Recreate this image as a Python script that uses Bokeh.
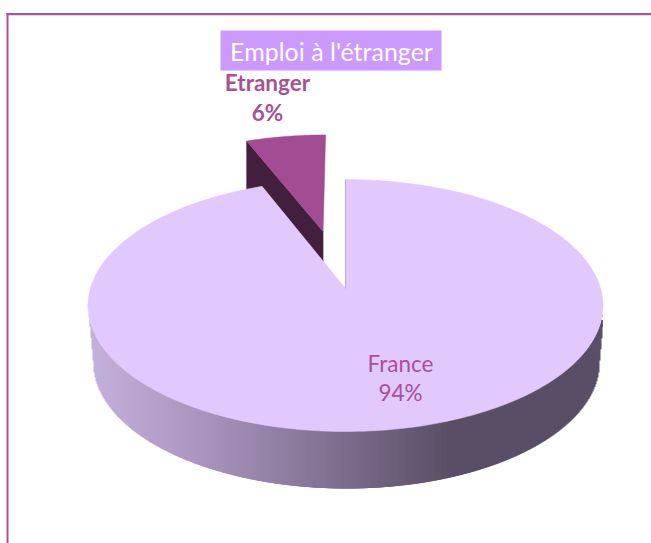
import math
import numpy as np
from bokeh.plotting import figure
from bokeh.models import Range1d
from bokeh.core.properties import value
from bokeh.embed import file_html
from bokeh.resources import INLINE

title_text = "Emploi à l'étranger"
categories = ["France", "Etranger"]
shares = [94, 6]

W, H = 651, 543
FONT = "Lato"
CX, AY = 345.0, 288.0      # apex of the un-exploded pie on screen
A, B, K = 255.1, 123.7, 0.135   # projection of the unit disk
DEPTH = 57.0
EXPLODE = 0.5
TOP = "#E1C9FE"
ETR_TOP = "#A24C93"
ETR_SIDE = "#421F3D"
TXT = "#A8509A"
BORDER = "#A9539F"

def proj(u, v, depth=0.0, shrink=1.0):
    w = 1 + K * v
    return CX + shrink * A * u / w, AY - B * v / w + depth

def disk(deg, r=1.0, ou=0.0, ov=0.0):
    t = math.radians(deg)
    return ou + r * math.sin(t), ov + r * math.cos(t)

def arc(a0, a1, n, ou=0.0, ov=0.0, depth=0.0, shrink=1.0):
    return [proj(*disk(a0 + (a1 - a0) * i / n, 1.0, ou, ov), depth, shrink) for i in range(n + 1)]

def hexmix(c1, c2, f):
    a = [int(c1[i:i+2], 16) for i in (1, 3, 5)]
    b = [int(c2[i:i+2], 16) for i in (1, 3, 5)]
    return "#%02x%02x%02x" % tuple(round(x + (y - x) * f) for x, y in zip(a, b))

def side_color(x):
    stops = [(94, "#C3AFDB"), (210, "#A792BA"), (450, "#5A4F66"), (610, "#5A4F66")]
    for (x0, c0), (x1, c1) in zip(stops, stops[1:]):
        if x <= x1:
            return hexmix(c0, c1, max(0.0, (x - x0) / (x1 - x0)))
    return stops[-1][1]

p = figure(width=W, height=H, x_range=Range1d(0, W), y_range=Range1d(H, 0),
           output_backend="svg", toolbar_location=None, min_border=0,
           outline_line_color=None, background_fill_color="white",
           border_fill_color="white", margin=(0, 0, 0, 0))
p.axis.visible = False
p.grid.visible = False

# frame
p.line([6, W], [14.5, 14.5], line_color="#D9A9D3", line_width=1)
p.line([7, 7], [13, H], line_color=BORDER, line_width=2)
p.line([6, W], [13.5, 13.5], line_color=BORDER, line_width=2)

total = sum(shares)
sweep_main = 360.0 * shares[0] / total
mid = (sweep_main + 360.0) / 2
ou, ov = disk(mid, EXPLODE)

# exploded slice: side then top (the main slice is drawn over it)
c0 = proj(ou, ov)
c1 = proj(ou, ov, DEPTH)
e0 = proj(*disk(sweep_main, 1.0, ou, ov))
e1 = proj(*disk(sweep_main, 1.0, ou, ov), DEPTH)
p.patch([c0[0], e0[0], e1[0], c1[0]], [c0[1], e0[1], e1[1], c1[1]],
        fill_color=ETR_SIDE, line_color=ETR_SIDE, line_width=0.5)
ring = [c0] + arc(sweep_main, 360.0, 24, ou, ov)
p.patch([q[0] for q in ring], [q[1] for q in ring],
        fill_color=ETR_TOP, line_color=ETR_TOP, line_width=0.5)

# rim of the main slice, as overlapping upright strips
n = 400
th0, th1 = 97.8, 262.2
top_rim = arc(th1, th0, n)
bot_rim = arc(th1, th0, n, depth=DEPTH, shrink=0.98)
bound = [top_rim[0]] + bot_rim + [top_rim[-1]]
tx, ty = np.array([q[0] for q in top_rim]), np.array([q[1] for q in top_rim])
bx, by = np.array([q[0] for q in bound]), np.array([q[1] for q in bound])
sx = np.arange(math.floor(tx[0]), math.ceil(tx[-1]))
p.quad(left=sx, right=np.minimum(sx + 3, tx[-1]), top=np.interp(sx + 0.5, tx, ty) - 1,
       bottom=np.interp(sx + 0.5, bx, by),
       fill_color=[side_color(x + 0.5) for x in sx], fill_alpha=1.0, line_color=None)

# top of the main slice
ring = [proj(0, 0)] + arc(0.0, sweep_main, 240)
p.patch([q[0] for q in ring], [q[1] for q in ring],
        fill_color=TOP, line_color=TOP, line_width=0.5)
tip = proj(*disk(0.0))
p.line([CX, CX], [tip[1], AY], line_color="#A9A2B2", line_width=0.8)

# title box and texts
p.quad(left=[220], right=[441], top=[30], bottom=[70], fill_color="#CC99FF", line_color=None)
p.text([331], [50], text=[title_text], text_color="white", text_font=value(FONT),
       text_font_size="25px", text_align="center", text_baseline="middle")
p.text([267], [81.5], text=[categories[1]], text_color=TXT, text_font=value(FONT),
       text_font_style="bold", text_font_size="22.5px", text_align="center", text_baseline="middle")
p.text([267], [111.5], text=[f"{shares[1]}%"], text_color=TXT, text_font=value(FONT),
       text_font_style="bold", text_font_size="22.5px", text_align="center", text_baseline="middle")
p.text([400], [363], text=[categories[0]], text_color=TXT, text_font=value(FONT),
       text_font_size="22.5px", text_align="center", text_baseline="middle")
p.text([400], [392], text=[f"{shares[0]}%"], text_color=TXT, text_font=value(FONT),
       text_font_size="22.5px", text_align="center", text_baseline="middle")

open("out.html", "w").write(file_html(p, INLINE))
